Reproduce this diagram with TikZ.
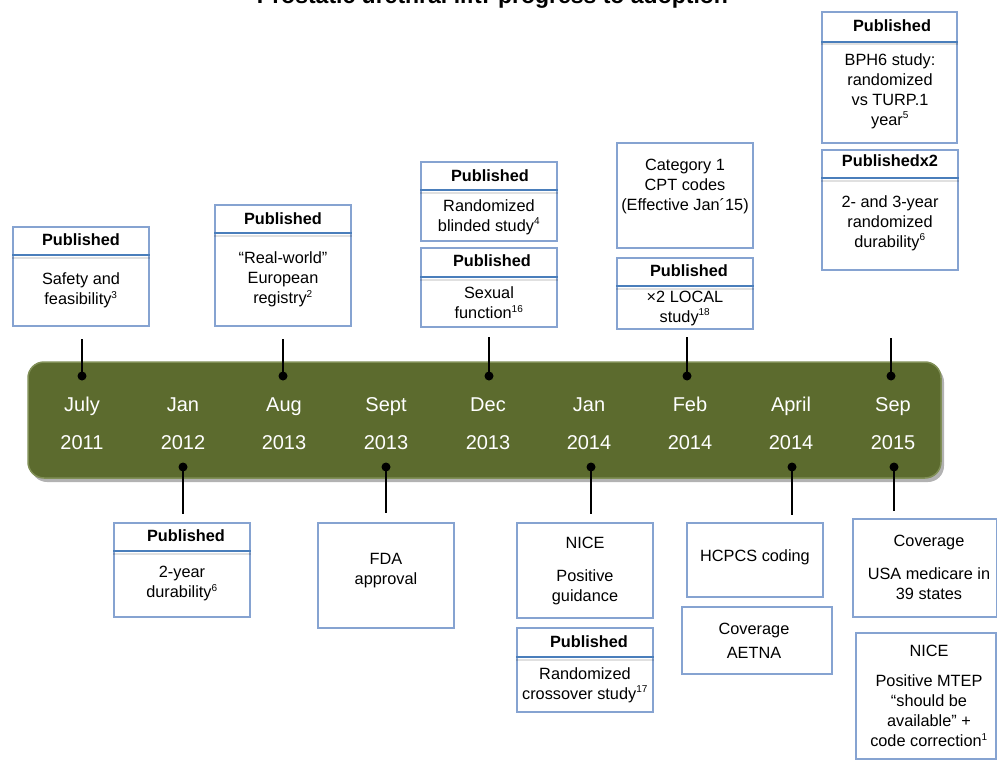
\documentclass[tikz,border=0pt]{standalone}
\usepackage{fontspec}
\setmainfont{Liberation Sans}
\usetikzlibrary{shadows}
\definecolor{barolive}{RGB}{92,107,46}
\definecolor{barrim}{RGB}{128,143,86}
\definecolor{boxblue}{RGB}{134,163,209}
\definecolor{divblue}{RGB}{74,126,187}
\tikzset{
  box/.style={draw=boxblue, line width=1.2pt, fill=white, rectangle, inner sep=0pt,
    drop shadow={shadow xshift=1.2pt, shadow yshift=-1.2pt, opacity=0.12, fill=black}},
  divider/.style={draw=divblue, line width=2.4pt},
  divshadow/.style={draw=black, opacity=0.12, line width=2pt},
  hdr/.style={font=\fontsize{16.3}{19.5}\selectfont\bfseries, inner sep=0pt},
  body/.style={font=\fontsize{16.3}{20}\selectfont, align=center, inner sep=0pt},
  datelbl/.style={font=\fontsize{20}{24}\selectfont, text=white, inner sep=0pt, anchor=base},
  dotmark/.style={circle, fill=black, minimum size=9pt, inner sep=0pt},
  conn/.style={line width=2pt, draw=black},
  bar/.style={rectangle, rounded corners=16pt, fill=barolive, draw=barrim, line width=1.5pt,
    drop shadow={shadow xshift=3pt, shadow yshift=-4pt, opacity=0.3, fill=black}},
}
\newcommand{\sups}[1]{\textsuperscript{\fontsize{10}{10}\selectfont #1}}
\begin{document}
\begin{tikzpicture}[x=1pt, y=-1pt]
\useasboundingbox (0,0) rectangle (997,760);

% title
\node[font=\fontsize{23}{27}\selectfont\bfseries, anchor=base, inner sep=0pt] (title) at (492.5,4) {Prostatic urethral lift: progress to adoption};

% timeline bar
\node[bar, minimum width=913pt, minimum height=116pt] (bar) at (484.5,420) {};

% dates
\node[datelbl] (m1) at (82,411) {July};   \node[datelbl] (y1) at (82,449) {2011};
\node[datelbl] (m2) at (183,411) {Jan};   \node[datelbl] (y2) at (183,449) {2012};
\node[datelbl] (m3) at (284,411) {Aug};   \node[datelbl] (y3) at (284,449) {2013};
\node[datelbl] (m4) at (386,411) {Sept};  \node[datelbl] (y4) at (386,449) {2013};
\node[datelbl] (m5) at (488,411) {Dec};   \node[datelbl] (y5) at (488,449) {2013};
\node[datelbl] (m6) at (589,411) {Jan};   \node[datelbl] (y6) at (589,449) {2014};
\node[datelbl] (m7) at (690,411) {Feb};   \node[datelbl] (y7) at (690,449) {2014};
\node[datelbl] (m8) at (791,411) {April}; \node[datelbl] (y8) at (791,449) {2014};
\node[datelbl] (m9) at (893,411) {Sep};   \node[datelbl] (y9) at (893,449) {2015};

% dots and connector ends
\node[dotmark] (dt1) at (82,376) {};
\node[dotmark] (dt2) at (283,376) {};
\node[dotmark] (dt3) at (489,376) {};
\node[dotmark] (dt4) at (687,376) {};
\node[dotmark] (dt5) at (891,376) {};
\node[dotmark] (db1) at (183,467) {};
\node[dotmark] (db2) at (386,467) {};
\node[dotmark] (db3) at (591,467) {};
\node[dotmark] (db4) at (792,467) {};
\node[dotmark] (db5) at (894,467) {};
\coordinate (ct1) at (82,339);
\coordinate (ct2) at (283,339);
\coordinate (ct3) at (489,337);
\coordinate (ct4) at (687,337);
\coordinate (ct5) at (891,338);
\coordinate (cb1) at (183,514);
\coordinate (cb2) at (386,513);
\coordinate (cb3) at (591,514);
\coordinate (cb4) at (792,515);
\coordinate (cb5) at (894,511);
\foreach \i in {1,...,5} {
  \draw[conn] (ct\i) -- (dt\i.center);
  \draw[conn] (db\i.center) -- (cb\i);
}

% ---------- top boxes ----------
% Box 1
\node[box, minimum width=136pt, minimum height=99pt] (b1) at (81,276.5) {};
\draw[divshadow] (12,257.5) -- (150,257.5);
\draw[divider] (12,255) -- (150,255);
\node[hdr] (h1) at (81,240) {Published};
\node[body] (t1) at (81,290.5) {Safety and\\feasibility\sups{3}};

% Box 2
\node[box, minimum width=136pt, minimum height=121pt] (b2) at (283,265.5) {};
\draw[divshadow] (214,235.5) -- (352,235.5);
\draw[divider] (214,233) -- (352,233);
\node[hdr] (h2) at (283,219) {Published};
\node[body] (t2) at (283,279.5) {“Real-world”\\European\\registry\sups{2}};

% Box 3
\node[box, minimum width=136pt, minimum height=79pt] (b3) at (489,201.5) {};
\draw[divshadow] (420,192.5) -- (558,192.5);
\draw[divider] (420,190) -- (558,190);
\node[hdr] (h3) at (490,176) {Published};
\node[body] (t3) at (489,217) {Randomized\\blinded study\sups{4}};

% Box 4
\node[box, minimum width=136pt, minimum height=79pt] (b4) at (489,287.5) {};
\draw[divshadow] (420,279.5) -- (558,279.5);
\draw[divider] (420,277) -- (558,277);
\node[hdr] (h4) at (492,261) {Published};
\node[body] (t4) at (489,303) {Sexual\\function\sups{16}};

% Box 5
\node[box, minimum width=136pt, minimum height=105pt] (b5) at (685,195.5) {};
\node[body] (t5) at (685,186.5) {Category 1\\CPT codes\\(Effective Jan´15)};

% Box 6
\node[box, minimum width=136pt, minimum height=71pt] (b6) at (685,293.5) {};
\draw[divshadow] (616,288.5) -- (754,288.5);
\draw[divider] (616,286) -- (754,286);
\node[hdr] (h6) at (689,271) {Published};
\node[body] (t6) at (685,308) {×2 LOCAL\\study\sups{18}};

% Box 7
\node[box, minimum width=135pt, minimum height=131pt] (b7) at (889.5,77.5) {};
\draw[divshadow] (821,44.5) -- (958,44.5);
\draw[divider] (821,42) -- (958,42);
\node[hdr] (h7) at (892,26) {Published};
\node[body] (t7) at (890,91) {BPH6 study:\\randomized\\vs TURP.1\\year\sups{5}};

% Box 8
\node[box, minimum width=136pt, minimum height=120pt] (b8) at (890,210) {};
\draw[divshadow] (821,180.5) -- (959,180.5);
\draw[divider] (821,178) -- (959,178);
\node[hdr] (h8) at (890,161) {Publishedx2};
\node[body] (t8) at (890,223) {2- and 3-year\\randomized\\durability\sups{6}};

% ---------- bottom boxes ----------
% Box 9
\node[box, minimum width=136pt, minimum height=94pt] (b9) at (182,570) {};
\draw[divshadow] (113,553.5) -- (251,553.5);
\draw[divider] (113,551) -- (251,551);
\node[hdr] (h9) at (186,536) {Published};
\node[body] (t9) at (182,583.5) {2-year\\durability\sups{6}};

% Box 10
\node[box, minimum width=136pt, minimum height=105pt] (b10) at (386,575.5) {};
\node[body] (t10) at (386,571) {FDA\\approval};

% Box 11
\node[box, minimum width=136pt, minimum height=95pt] (b11) at (585,570.5) {};
\node[body] (t11) at (585,570.5) {NICE\\[13pt]Positive\\guidance};

% Box 12
\node[box, minimum width=136pt, minimum height=84pt] (b12) at (585,670) {};
\draw[divshadow] (516,659.5) -- (654,659.5);
\draw[divider] (516,657) -- (654,657);
\node[hdr] (h12) at (589,642) {Published};
\node[body] (t12) at (585,685) {Randomized\\crossover study\sups{17}};

% Box 13
\node[box, minimum width=136pt, minimum height=74pt] (b13) at (755,560) {};
\node[body] (t13) at (755,557) {HCPCS coding};

% Box 14
\node[box, minimum width=150pt, minimum height=67pt] (b14) at (757,640.5) {};
\node[body] (t14) at (754,641) {Coverage\\[4pt]AETNA};

% Box 15
\node[box, minimum width=143.5pt, minimum height=98pt] (b15) at (924.75,568) {};
\node[body] (t15) at (929,567.5) {Coverage\\[13pt]USA medicare in\\39 states};

% Box 16
\node[box, minimum width=140pt, minimum height=126pt] (b16) at (926,696) {};
\node[body] (t16) at (929,696) {NICE\\[10pt]Positive MTEP\\“should be\\available” +\\code correction\sups{1}};

\end{tikzpicture}
\end{document}
